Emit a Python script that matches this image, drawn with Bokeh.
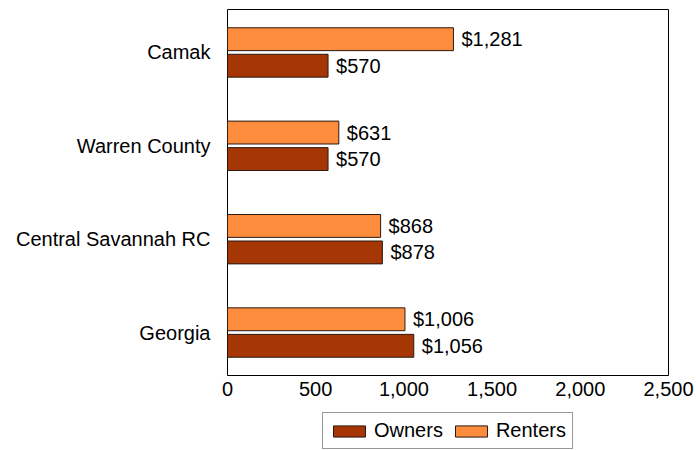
from bokeh.plotting import figure
from bokeh.layouts import column
from bokeh.models import ColumnDataSource, Legend, LegendItem, NumeralTickFormatter, FixedTicker, Range1d
from bokeh.core.properties import value
from bokeh.embed import file_html
from bokeh.resources import INLINE

categories = ["Georgia", "Central Savannah RC", "Warren County", "Camak"]
owners = [1056, 878, 570, 570]
renters = [1006, 868, 631, 1281]
x_ticks = [0, 500, 1000, 1500, 2000, 2500]
series = ["Owners", "Renters"]

FONT = "Liberation Sans"
FS = "20px"
OWN_C = "#A63603"
REN_C = "#FD8D3C"
EDGE = "#2b1a12"

pos = list(range(len(categories)))
off = 0.142
h = 0.245

src_o = ColumnDataSource(dict(y=[p_ - off for p_ in pos], v=owners,
                              lab=["${:,}".format(v) for v in owners]))
src_r = ColumnDataSource(dict(y=[p_ + off for p_ in pos], v=renters,
                              lab=["${:,}".format(v) for v in renters]))

p = figure(frame_width=441, frame_height=366, output_backend="svg", toolbar_location=None,
           x_range=Range1d(0, 2500), y_range=Range1d(-0.46, 3.46),
           min_border_left=227, min_border_right=28, min_border_top=9, min_border_bottom=30)

p.hbar(y="y", right="v", left=0, height=h, source=src_o,
       fill_color=OWN_C, line_color=EDGE, line_width=1)
p.hbar(y="y", right="v", left=0, height=h, source=src_r,
       fill_color=REN_C, line_color=EDGE, line_width=1)

for s in (src_o, src_r):
    p.text(x="v", y="y", text="lab", source=s, x_offset=8,
           text_align="left", text_baseline="middle",
           text_font=value(FONT), text_font_size=FS, text_color="black")

p.grid.visible = False
p.outline_line_color = "black"
p.outline_line_width = 1

p.xaxis.ticker = FixedTicker(ticks=x_ticks)
p.xaxis.formatter = NumeralTickFormatter(format="0,0")
p.yaxis.ticker = FixedTicker(ticks=pos)
p.yaxis.major_label_overrides = {i: c for i, c in enumerate(categories)}
for ax in (p.xaxis, p.yaxis):
    ax.axis_line_color = None
    ax.major_tick_line_color = None
    ax.minor_tick_line_color = None
    ax.major_tick_out = 0
    ax.major_tick_in = 0
    ax.major_label_text_font = FONT
    ax.major_label_text_font_size = FS
    ax.major_label_text_color = "black"
p.yaxis.major_label_standoff = 17
p.xaxis.major_label_standoff = 6

# legend strip below the chart (its renderers sit outside its visible range)
lg = figure(width=696, height=45, output_backend="svg", toolbar_location=None,
            x_range=Range1d(0, 1), y_range=Range1d(0, 1),
            min_border=0, x_axis_type=None, y_axis_type=None)
lg.outline_line_color = None
lg.grid.visible = False
d_o = lg.hbar(y=[-10], right=[0.5], left=0, height=0.1, fill_color=OWN_C, line_color=EDGE, line_width=1)
d_r = lg.hbar(y=[-10], right=[0.5], left=0, height=0.1, fill_color=REN_C, line_color=EDGE, line_width=1)
legend = Legend(items=[LegendItem(label=series[0], renderers=[d_o]),
                       LegendItem(label=series[1], renderers=[d_r])],
                orientation="horizontal", location=(95, 1),
                label_text_font=FONT, label_text_font_size=FS, label_text_color="black",
                glyph_width=40, glyph_height=14, spacing=8, padding=6, margin=0,
                border_line_color="#333333", label_standoff=5)
lg.add_layout(legend, "center")

layout = column(p, lg, spacing=0)
open("out.html", "w").write(file_html(layout, INLINE))
